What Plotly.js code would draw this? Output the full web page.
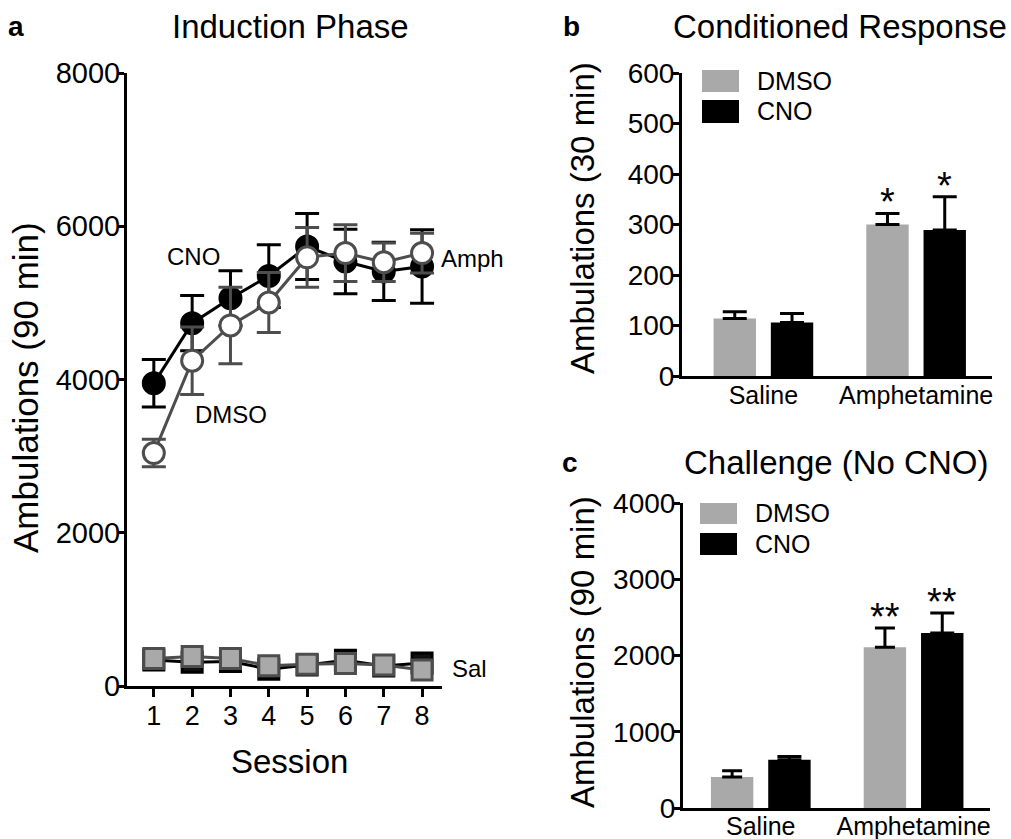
<!DOCTYPE html>
<html>
<head>
<meta charset="utf-8">
<script src="https://cdn.plot.ly/plotly-3.0.1.min.js"></script>
<style>html,body{margin:0;padding:0;background:#fff;}#chart{width:1011px;height:839px;}</style>
</head>
<body>
<div id="chart"></div>
<script>
// ---- Data ----
const sessions = [1, 2, 3, 4, 5, 6, 7, 8];
const amphCNO = [3950, 4735, 5060, 5350, 5735, 5540, 5410, 5475];
const amphCNOsem = [310, 360, 360, 410, 430, 420, 380, 480];
const amphDMSO = [3040, 4245, 4705, 5005, 5595, 5650, 5530, 5650];
const amphDMSOsem = [180, 440, 500, 390, 390, 370, 250, 260];
const salCNO = [340, 310, 320, 220, 275, 335, 260, 300];
const salCNOsem = [40, 40, 40, 40, 40, 40, 40, 40];
const salDMSO = [360, 385, 360, 265, 285, 295, 275, 210];
const salDMSOsem = [40, 40, 40, 40, 40, 40, 40, 40];

const groups = ['Saline', 'Amphetamine'];
const crDMSO = [114, 300];
const crDMSOsem = [13, 22];
const crCNO = [106, 289];
const crCNOsem = [18, 66];

const chDMSO = [406, 2107];
const chDMSOsem = [83, 253];
const chCNO = [633, 2295];
const chCNOsem = [44, 262];

const aTicks = [0, 2000, 4000, 6000, 8000];
const bTicks = [0, 100, 200, 300, 400, 500, 600];
const cTicks = [0, 1000, 2000, 3000, 4000];

// ---- Helpers ----
const W = 1011, H = 839;
const px = x => x / W;
const py = y => 1 - y / H;
const FONT = 'Liberation Sans, Arial, Helvetica, sans-serif';
const GRAY = '#a9a9a9';
const DGRAY = '#4d4d4d';

function errUp(arr, color, w) {
  return {type: 'data', array: arr, arrayminus: arr.map(() => 0), symmetric: false,
          color: color, thickness: 3, width: w};
}
function errBoth(arr, color, w) {
  return {type: 'data', array: arr, symmetric: true, color: color, thickness: 3, width: w};
}

const traces = [
  // Panel a: saline
  {x: sessions, y: salCNO, type: 'scatter', mode: 'lines+markers', xaxis: 'x', yaxis: 'y',
   line: {color: '#000', width: 3}, error_y: errBoth(salCNOsem, '#000', 11),
   marker: {symbol: 'square', size: 20, color: '#111', line: {color: '#000', width: 3}}, cliponaxis: false},
  {x: sessions, y: salDMSO, type: 'scatter', mode: 'lines+markers', xaxis: 'x', yaxis: 'y',
   line: {color: DGRAY, width: 3}, error_y: errBoth(salDMSOsem, DGRAY, 11),
   marker: {symbol: 'square', size: 20, color: GRAY, line: {color: DGRAY, width: 3}}, cliponaxis: false},
  // Panel a: amphetamine
  {x: sessions, y: amphCNO, type: 'scatter', mode: 'lines+markers', xaxis: 'x', yaxis: 'y',
   line: {color: '#000', width: 3}, error_y: errBoth(amphCNOsem, '#000', 12),
   marker: {symbol: 'circle', size: 22, color: '#000', line: {color: '#000', width: 2}}, cliponaxis: false},
  {x: sessions, y: amphDMSO, type: 'scatter', mode: 'lines+markers', xaxis: 'x', yaxis: 'y',
   line: {color: DGRAY, width: 3}, error_y: errBoth(amphDMSOsem, DGRAY, 12),
   marker: {symbol: 'circle', size: 21, color: '#fff', line: {color: DGRAY, width: 3}}, cliponaxis: false},
  // Panel b
  {x: groups, y: crDMSO, type: 'bar', xaxis: 'x2', yaxis: 'y2', name: 'DMSO',
   marker: {color: GRAY}, error_y: errUp(crDMSOsem, '#000', 12)},
  {x: groups, y: crCNO, type: 'bar', xaxis: 'x2', yaxis: 'y2', name: 'CNO',
   marker: {color: '#000'}, error_y: errUp(crCNOsem, '#000', 12)},
  // Panel c
  {x: groups, y: chDMSO, type: 'bar', xaxis: 'x3', yaxis: 'y3', name: 'DMSO',
   marker: {color: GRAY}, error_y: errUp(chDMSOsem, '#000', 10)},
  {x: groups, y: chCNO, type: 'bar', xaxis: 'x3', yaxis: 'y3', name: 'CNO',
   marker: {color: '#000'}, error_y: errUp(chCNOsem, '#000', 12)}
];

const axBase = {showline: true, linecolor: '#000', linewidth: 3, showgrid: false, zeroline: false,
  ticks: 'outside', ticklen: 7, tickwidth: 3, tickcolor: '#000', fixedrange: true};

function ann(text, x, y, size, opts) {
  return Object.assign({text: text, x: px(x), y: py(y), xref: 'paper', yref: 'paper',
    showarrow: false, font: {family: FONT, size: size, color: '#000'},
    xanchor: 'center', yanchor: 'middle'}, opts || {});
}

const annotations = [
  ann('<b>a</b>', 16, 27, 28),
  ann('<b>b</b>', 571, 27, 28),
  ann('<b>c</b>', 570, 462, 28),
  ann('Induction Phase', 290, 27, 33),
  ann('Conditioned Response', 840, 27, 33),
  ann('Challenge (No CNO)', 836, 462, 33),
  ann('Ambulations (90 min)', 25, 388, 35, {textangle: -90}),
  ann('Session', 289, 761, 33),
  ann('Ambulations (30 min)', 582, 218, 33, {textangle: -90}),
  ann('Ambulations (90 min)', 582, 652, 33, {textangle: -90}),
  ann('CNO', 193, 256, 24),
  ann('DMSO', 231, 415, 24),
  ann('Amph', 472, 258, 24),
  ann('Sal', 469, 668, 24),
  ann('DMSO', 755, 81, 25, {xanchor: 'left'}),
  ann('CNO', 755, 111, 25, {xanchor: 'left'}),
  ann('DMSO', 753, 513, 25, {xanchor: 'left'}),
  ann('CNO', 753, 544, 25, {xanchor: 'left'})
];
// significance stars at the bar positions (group offset of +/-0.1875)
const starsB = ['*', '*'];
const starsC = ['**', '**'];
[[crDMSO, crDMSOsem, -0.1875, starsB[0]], [crCNO, crCNOsem, 0.1875, starsB[1]]].forEach(([m, s, off, t]) => {
  annotations.push({text: t, x: 1 + off, y: m[1] + s[1], xref: 'x2', yref: 'y2', showarrow: false,
    font: {family: FONT, size: 38, color: '#000'}, xanchor: 'center', yanchor: 'bottom', yshift: -12});
});
[[chDMSO, chDMSOsem, -0.1875, starsC[0]], [chCNO, chCNOsem, 0.1875, starsC[1]]].forEach(([m, s, off, t]) => {
  annotations.push({text: t, x: 1 + off, y: m[1] + s[1], xref: 'x3', yref: 'y3', showarrow: false,
    font: {family: FONT, size: 38, color: '#000'}, xanchor: 'center', yanchor: 'bottom', yshift: -12});
});

const shapes = [
  {type: 'rect', xref: 'paper', yref: 'paper', x0: px(702), x1: px(739), y0: py(92), y1: py(70), fillcolor: GRAY, line: {width: 0}},
  {type: 'rect', xref: 'paper', yref: 'paper', x0: px(702), x1: px(739), y0: py(123), y1: py(100), fillcolor: '#000', line: {width: 0}},
  {type: 'rect', xref: 'paper', yref: 'paper', x0: px(700), x1: px(737), y0: py(524), y1: py(503), fillcolor: GRAY, line: {width: 0}},
  {type: 'rect', xref: 'paper', yref: 'paper', x0: px(700), x1: px(737), y0: py(555), y1: py(533), fillcolor: '#000', line: {width: 0}}
];

const layout = {
  width: W, height: H,
  margin: {l: 0, r: 0, t: 0, b: 0},
  paper_bgcolor: '#fff', plot_bgcolor: 'rgba(0,0,0,0)',
  showlegend: false,
  font: {family: FONT, color: '#000'},
  barmode: 'group', bargap: 0.25, bargroupgap: 0.26,
  xaxis: Object.assign({}, axBase, {domain: [px(127), px(442)], range: [0.3, 8.52], tickvals: sessions,
    ticklen: 8, tickfont: {size: 27}, ticklabelstandoff: -4, anchor: 'y'}),
  yaxis: Object.assign({}, axBase, {domain: [py(686), py(73)], range: [0, 8000], tickvals: aTicks,
    tickfont: {size: 29}, ticklabelstandoff: -9, anchor: 'x'}),
  xaxis2: Object.assign({}, axBase, {domain: [px(682), px(992)], range: [-0.533, 1.497], type: 'category',
    ticks: '', tickfont: {size: 25}, ticklabelstandoff: -5, anchor: 'y2'}),
  yaxis2: Object.assign({}, axBase, {domain: [py(376), py(73)], range: [0, 600], tickvals: bTicks,
    tickfont: {size: 28}, ticklabelstandoff: -8, anchor: 'x2'}),
  xaxis3: Object.assign({}, axBase, {domain: [px(683), px(990)], range: [-0.509, 1.5], type: 'category',
    ticks: '', tickfont: {size: 25}, ticklabelstandoff: -6, anchor: 'y3'}),
  yaxis3: Object.assign({}, axBase, {domain: [py(808), py(503)], range: [0, 4000], tickvals: cTicks,
    tickfont: {size: 28}, ticklabelstandoff: -8, anchor: 'x3'}),
  annotations: annotations,
  shapes: shapes
};

Plotly.newPlot('chart', traces, layout, {displayModeBar: false, staticPlot: true});
</script>
</body>
</html>
